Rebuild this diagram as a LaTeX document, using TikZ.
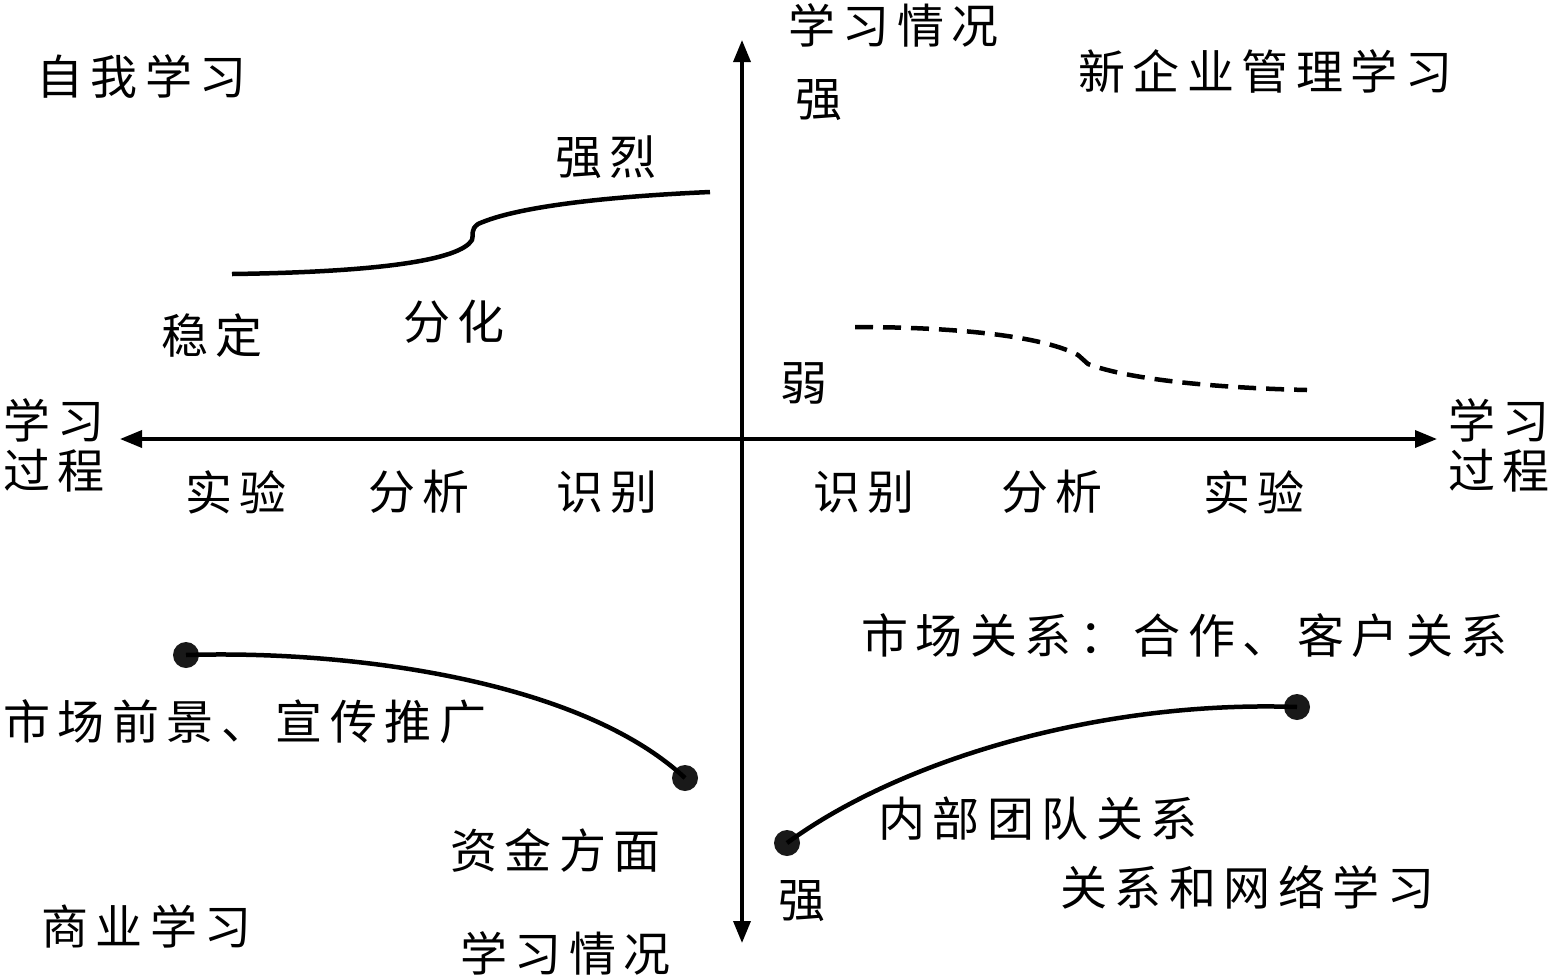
\documentclass[tikz,border=0pt]{standalone}
\usepackage{fontspec}
\newfontfamily\cjk[LetterSpace=16]{Noto Sans CJK SC}
\usetikzlibrary{arrows.meta}
\begin{document}
\begin{tikzpicture}[x=1pt,y=-1pt,
  lbl/.style={anchor=west,inner sep=0pt,font=\cjk\fontsize{47}{50}\selectfont},
  axis/.style={line width=3.5pt,{Triangle[length=22pt,width=17pt]}-{Triangle[length=22pt,width=17pt]}},
  curve/.style={line width=4.5pt},
  dcurve/.style={line width=4.5pt,dash pattern=on 18pt off 10pt},
  dotnode/.style={circle,fill=black!90,inner sep=0pt,minimum size=26pt}]
\useasboundingbox (0,0) rectangle (1552,978);
% axes
\coordinate (L) at (120,439);
\coordinate (R) at (1437,439);
\coordinate (T) at (742,40);
\coordinate (B) at (742,943);
\draw[axis] (L) -- (R);
\draw[axis] (T) -- (B);
% labels
\node[lbl] (q1) at (36,76) {自我学习};
\node[lbl] (ytop) at (788,25) {学习情况};
\node[lbl] (strtop) at (795,100) {强};
\node[lbl] (q2) at (1078,71) {新企业管理学习};
\node[lbl] (qlie) at (555,157) {强烈};
\node[lbl] (wd) at (161,336) {稳定};
\node[lbl] (fh) at (403,322) {分化};
\node[lbl] (ruo) at (780,383) {弱};
\node[lbl,align=left] (xl) at (3,445) {学习\\过程};
\node[lbl,align=left] (xr) at (1448,445) {学习\\过程};
\node[lbl] (a1) at (185,492) {实验};
\node[lbl] (a2) at (368,492) {分析};
\node[lbl] (a3) at (556,492) {识别};
\node[lbl] (b1) at (813,492) {识别};
\node[lbl] (b2) at (1001,492) {分析};
\node[lbl] (b3) at (1203,492) {实验};
\node[lbl] (sc) at (861,636) {市场关系：合作、客户关系};
\node[lbl] (sq) at (3,722) {市场前景、宣传推广};
\node[lbl] (nb) at (878,819) {内部团队关系};
\node[lbl] (zj) at (450,850) {资金方面};
\node[lbl] (strbot) at (778,901) {强};
\node[lbl] (q4) at (1060,887) {关系和网络学习};
\node[lbl] (q3) at (41,926) {商业学习};
\node[lbl] (ybot) at (460,953) {学习情况};
% upper curves
\coordinate (s1) at (232,274);
\coordinate (s2) at (710,192);
\draw[curve] (s1) .. controls (380,272) and (460,260) .. (472,240)
  .. controls (474,234) and (470,230) .. (478,224)
  .. controls (520,205) and (620,196) .. (s2);
\coordinate (d1) at (855,327);
\coordinate (d2) at (1307,390);
\draw[dcurve] (d1) .. controls (950,327) and (1040,335) .. (1078,355)
  -- (1088,364) .. controls (1130,380) and (1220,388) .. (d2);
% lower curves
\node[dotnode] (p1) at (186,655) {};
\node[dotnode] (p2) at (685,778) {};
\node[dotnode] (p3) at (787,843) {};
\node[dotnode] (p4) at (1297,707) {};
\draw[curve] (p1.center) .. controls (350,650) and (580,680) .. (p2.center);
\draw[curve] (p3.center) .. controls (900,760) and (1100,700) .. (p4.center);
\end{tikzpicture}
\end{document}
